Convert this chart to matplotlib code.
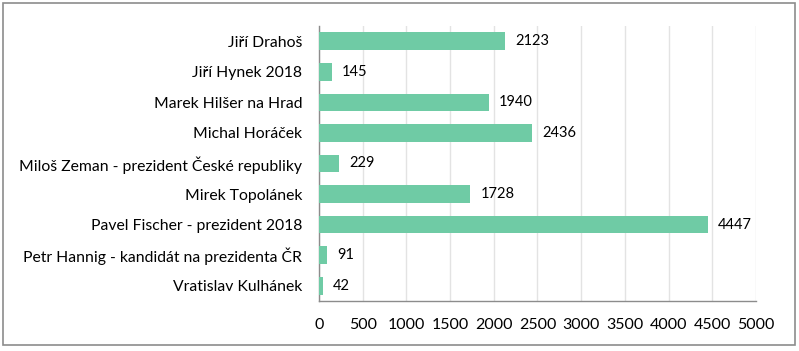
import matplotlib.pyplot as plt
from matplotlib.patches import Rectangle

plt.rcParams["font.family"] = ["Lato", "DejaVu Sans"]

candidates = [
    "Jiří Drahoš",
    "Jiří Hynek 2018",
    "Marek Hilšer na Hrad",
    "Michal Horáček",
    "Miloš Zeman - prezident České republiky",
    "Mirek Topolánek",
    "Pavel Fischer - prezident 2018",
    "Petr Hannig - kandidát na prezidenta ČR",
    "Vratislav Kulhánek",
]
values = [2123, 145, 1940, 2436, 229, 1728, 4447, 91, 42]
xticks = [0, 500, 1000, 1500, 2000, 2500, 3000, 3500, 4000, 4500, 5000]

fig = plt.figure(figsize=(7.99, 3.51), dpi=100)
ax = fig.add_axes([0.3992, 0.1425, 0.547, 0.7835])

# rámeček kolem grafu
fig.patches.append(Rectangle((0.004, 0.017), 0.991, 0.974, transform=fig.transFigure,
                             fill=False, edgecolor="#8c8c8c", linewidth=1.2))

pos = list(range(len(candidates)))
ax.barh(pos, values, height=0.58, color="#6fcba5", zorder=3)

for p, v in zip(pos, values):
    ax.text(v + 120, p, str(v), va="center", ha="left", fontsize=10.5, color="black")

ax.set_yticks(pos)
ax.set_yticklabels(candidates, fontsize=11.3)
ax.set_ylim(len(candidates) - 0.5, -0.5)
ax.set_xlim(0, 5000)
ax.set_xticks(xticks)
ax.set_xticklabels([str(t) for t in xticks], fontsize=11.5)

ax.grid(axis="x", color="#e3e3e3", linewidth=1, zorder=0)
ax.tick_params(length=0)
ax.tick_params(axis="x", pad=12)
ax.tick_params(axis="y", pad=12)
for s in ["top", "right"]:
    ax.spines[s].set_visible(False)
for s in ["left", "bottom"]:
    ax.spines[s].set_color("#8c8c8c")
    ax.spines[s].set_linewidth(1)

plt.savefig("out.png", dpi=100)
